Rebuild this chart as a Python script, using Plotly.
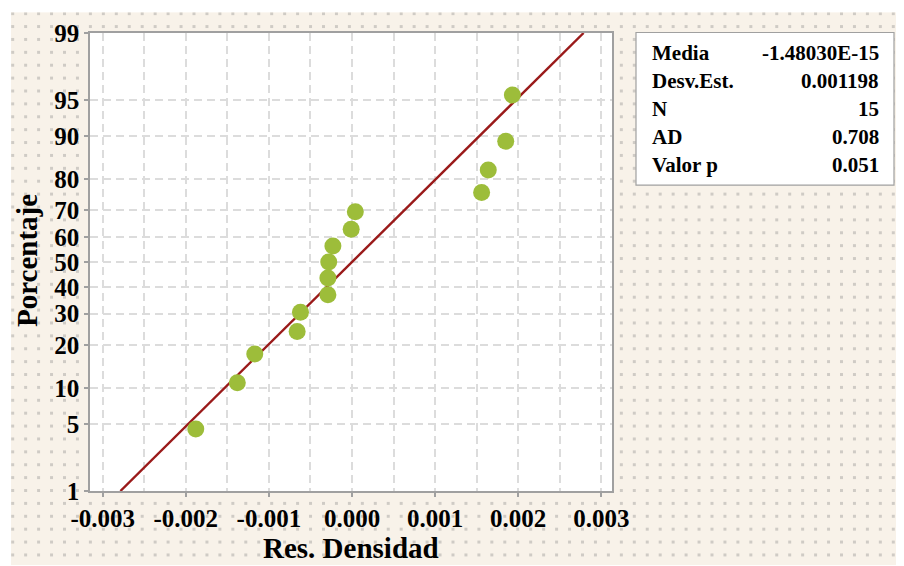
import base64
from statistics import NormalDist
import plotly.graph_objects as go

# ---------------- data ----------------
residuals = [-0.00188, -0.00138, -0.00117, -0.00066, -0.00062, -0.00029, -0.00029,
             -0.00028, -0.00023, -0.00001, 0.00004, 0.00156, 0.00164, 0.00185, 0.00193]
percent = [4.5, 11.0, 17.5, 24.0, 30.5, 37.0, 43.5, 50.0, 56.5, 63.0, 69.5, 76.0,
           82.5, 89.0, 95.5]
y_ticks = [1, 5, 10, 20, 30, 40, 50, 60, 70, 80, 90, 95, 99]
x_ticks = [-0.003, -0.002, -0.001, 0.0, 0.001, 0.002, 0.003]
x_tick_labels = ["-0.003", "-0.002", "-0.001", "0.000", "0.001", "0.002", "0.003"]
stat_labels = ["Media", "Desv.Est.", "N", "AD", "Valor p"]
stat_values = ["-1.48030E-15", "0.001198", "15", "0.708", "0.051"]
fit_mean = -1.48030e-15
fit_sd = 0.001198
x_title = "Res. Densidad"
y_title = "Porcentaje"

# ---------------- layout constants ----------------
OFF = 8                      # page body margin
W, H = 904 - OFF, 566 - OFF
ML, MT = 90 - OFF, 21
MR, MB = W - (612 - OFF), H - (491 - OFF)
PW, PH = W - ML - MR, H - MT - MB
FONT = "Liberation Serif"

nd = NormalDist()
z = lambda p: nd.inv_cdf(p / 100.0)


def px(xp):  # reference pixel -> paper
    return (xp - OFF - ML) / PW


def py(yp):
    return 1 - (yp - OFF - MT) / PH


# fitted normal line, from 1% to 99%
z_lo, z_hi = z(y_ticks[0]), z(y_ticks[-1])
line_x = [fit_mean + fit_sd * z_lo, fit_mean + fit_sd * z_hi]
line_y = [z_lo, z_hi]

minor_x = [(a + b) / 2 for a, b in zip(x_ticks[:-1], x_ticks[1:])]

fig = go.Figure()
fig.add_trace(go.Scatter(x=line_x, y=line_y, mode="lines",
                         line=dict(color="#9A1A1A", width=2.4),
                         hoverinfo="skip", showlegend=False))
fig.add_trace(go.Scatter(x=residuals, y=[z(p) for p in percent], mode="markers",
                         marker=dict(size=17, color="#9DBD3A", line=dict(width=0)),
                         showlegend=False))

grid = dict(gridcolor="#DCDCDC", gridwidth=2, griddash="8px,5px")
tickfont = dict(family=FONT, size=25, color="black", weight="bold")

fig.update_xaxes(range=[-0.003153, 0.003129], tickmode="array", tickvals=x_ticks,
                 ticktext=x_tick_labels, ticks="outside", ticklen=4, tickcolor="#A0A0A0",
                 tickwidth=1.5, showgrid=True, **grid, zeroline=False, showline=True,
                 linecolor="#A0A0A0", linewidth=1.5, mirror=True, tickfont=tickfont,
                 minor=dict(tickvals=minor_x, showgrid=True, ticks="", **grid))
fig.update_yaxes(range=[z_lo, z_hi], tickmode="array", tickvals=[z(p) for p in y_ticks],
                 ticktext=[str(p) for p in y_ticks], ticks="outside", ticklen=4,
                 tickcolor="#A0A0A0", tickwidth=1.5, showgrid=True, **grid, zeroline=False,
                 showline=True, linecolor="#A0A0A0", linewidth=1.5, mirror=True,
                 tickfont=tickfont)

# dotted beige background (decoration) with a white hole for the plot area
BX0, BY0 = 3, 0
bw, bh = W - BX0, H - BY0
svg = (f'<svg xmlns="http://www.w3.org/2000/svg" width="{bw}" height="{bh}" '
       f'viewBox="0 0 {bw} {bh}" preserveAspectRatio="none">'
       '<defs><pattern id="d" x="0.2" y="0" width="12.95" height="13" '
       'patternUnits="userSpaceOnUse"><rect width="3" height="3" fill="#CFCBC5"/>'
       '</pattern></defs>'
       f'<rect width="{bw}" height="{bh}" fill="#F8F2E9"/>'
       f'<rect width="{bw}" height="{bh}" fill="url(#d)"/>'
       f'<rect x="{ML - BX0}" y="{MT - BY0}" width="{PW}" height="{PH}" fill="white"/>'
       '</svg>')
src = "data:image/svg+xml;base64," + base64.b64encode(svg.encode()).decode()
fig.add_layout_image(dict(source=src, xref="paper", yref="paper",
                          x=(BX0 - ML) / PW, y=1 + (MT - BY0) / PH,
                          sizex=bw / PW, sizey=bh / PH, sizing="stretch",
                          xanchor="left", yanchor="top", layer="below"))

# stats box
fig.add_shape(type="rect", xref="paper", yref="paper", x0=px(636), x1=px(894),
              y0=py(28.5), y1=py(182.5), fillcolor="white",
              line=dict(color="#A0A0A0", width=1.2), layer="above")
row_y = [48.5, 76.7, 105, 133.3, 161.5]
sfont = dict(family=FONT, size=21, color="black", weight="bold")
for lab, val, ry in zip(stat_labels, stat_values, row_y):
    fig.add_annotation(x=px(650), y=py(ry + 1), xref="paper", yref="paper", text=lab,
                       showarrow=False, xanchor="left", yanchor="middle", font=sfont)
    fig.add_annotation(x=px(881), y=py(ry + 1), xref="paper", yref="paper", text=val,
                       showarrow=False, xanchor="right", yanchor="middle", font=sfont)

# axis titles
tfont = dict(family=FONT, size=29, color="black", weight="bold")
fig.add_annotation(x=px(351), y=py(549), xref="paper", yref="paper", text=x_title,
                   showarrow=False, xanchor="center", yanchor="middle", font=tfont)
fig.add_annotation(x=px(26.5), y=py(258.5), xref="paper", yref="paper", text=y_title,
                   showarrow=False, xanchor="center", yanchor="middle", textangle=-90,
                   font=tfont)

fig.update_layout(width=W, height=H, margin=dict(l=ML, r=MR, t=MT, b=MB),
                  paper_bgcolor="white", plot_bgcolor="white", showlegend=False)

fig.write_html("out.html")
